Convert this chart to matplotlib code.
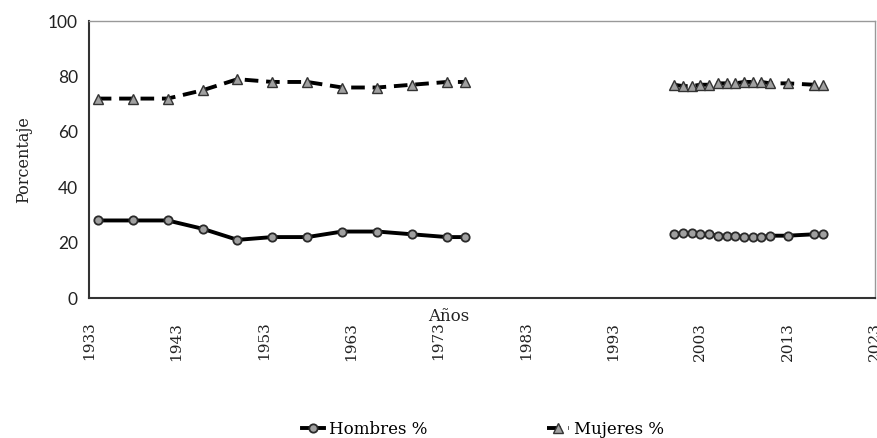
import numpy as np
import matplotlib.pyplot as plt

# años y porcentajes (dos periodos con hueco en medio)
years1 = [1934, 1938, 1942, 1946, 1950, 1954, 1958, 1962, 1966, 1970, 1974, 1976]
hombres1 = [28, 28, 28, 25, 21, 22, 22, 24, 24, 23, 22, 22]
mujeres1 = [72, 72, 72, 75, 79, 78, 78, 76, 76, 77, 78, 78]

years2 = [2000, 2001, 2002, 2003, 2004, 2005, 2006, 2007, 2008, 2009, 2010, 2011, 2013, 2016, 2017]
hombres2 = [23, 23.5, 23.5, 23, 23, 22.5, 22.5, 22.5, 22, 22, 22, 22.5, 22.5, 23, 23]
mujeres2 = [77, 76.5, 76.5, 77, 77, 77.5, 77.5, 77.5, 78, 78, 78, 77.5, 77.5, 77, 77]

xticks = [1933, 1943, 1953, 1963, 1973, 1983, 1993, 2003, 2013, 2023]
yticks = [0, 20, 40, 60, 80, 100]

# NaN entre los dos periodos para cortar la línea
years = years1 + [np.nan] + years2
hombres = hombres1 + [np.nan] + hombres2
mujeres = mujeres1 + [np.nan] + mujeres2

fig = plt.figure(figsize=(8.78, 4.38), dpi=100)
ax = fig.add_axes([0.1014, 0.3196, 0.8952, 0.6324])

ax.plot(years, hombres, color="black", linewidth=2.8, marker="o", markersize=6,
        markerfacecolor="#a0a0a0", markeredgecolor="#2a2a2a", markeredgewidth=1.3,
        label="Hombres %")
ax.plot(years, mujeres, color="black", linewidth=2.8, linestyle=(0, (3.5, 2)), marker="^",
        markersize=6.5, markerfacecolor="#a0a0a0", markeredgecolor="#333333",
        markeredgewidth=1.0, label="Mujeres %")

ax.set_xlim(1933, 2023)
ax.set_ylim(0, 100)
ax.set_xticks(xticks)
ax.set_yticks(yticks)
ax.set_xticklabels([str(t) for t in xticks], rotation=90, family="DejaVu Serif", fontsize=11)
ax.set_yticklabels([str(t) for t in yticks], family="Lato", fontsize=12.5)
ax.tick_params(length=0, colors="#222222")
ax.tick_params(axis="x", pad=17)
ax.tick_params(axis="y", pad=8)

for side in ["top", "right"]:
    ax.spines[side].set_color("#999999")
    ax.spines[side].set_linewidth(1.0)
for side in ["left", "bottom"]:
    ax.spines[side].set_color("#333333")
    ax.spines[side].set_linewidth(1.5)

ax.set_ylabel("Porcentaje", family="DejaVu Serif", fontsize=11.5, color="#222222")
ax.yaxis.set_label_coords(-0.073, 0.5)
ax.set_xlabel("Años", family="DejaVu Serif", fontsize=12, color="#222222")
ax.xaxis.set_label_coords(0.458, -0.035)

fig.legend(loc="center", bbox_to_anchor=(0.55, 0.02), ncol=2, frameon=False,
           borderpad=0, columnspacing=7.2, handlelength=1.3, handletextpad=0.3,
           prop={"family": "DejaVu Serif", "size": 12})

fig.savefig("out.png", dpi=100)
